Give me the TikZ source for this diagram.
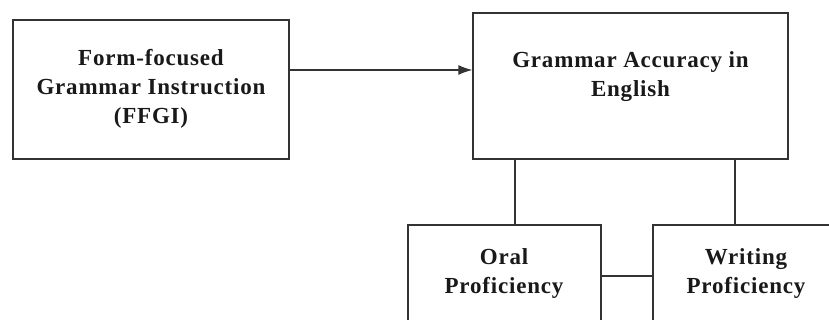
\documentclass[tikz,border=0pt]{standalone}
\usepackage{fontspec}
\setmainfont{Liberation Serif}
\usetikzlibrary{arrows.meta}
\tikzset{
  box/.style={draw=black!80, line width=1.3pt, inner sep=0pt},
  lbl/.style={font=\fontsize{23}{29}\selectfont\bfseries\addfontfeature{LetterSpace=3.5}, align=center, text=black!90, inner sep=0pt},
  conn/.style={draw=black!80, line width=1.3pt},
}
\begin{document}
\begin{tikzpicture}[x=1pt,y=1pt]
\useasboundingbox (0,0) rectangle (829,320);
\clip (0,0) rectangle (829,320);
\fill[white] (0,0) rectangle (829,320);
% boxes
\node[box, minimum width=276pt, minimum height=139pt] (ffgi) at (151,230.5) {};
\node[box, minimum width=315pt, minimum height=146pt] (gae) at (630.5,234) {};
\node[box, minimum width=193pt, minimum height=130pt] (oral) at (504.5,30) {};
\node[box, minimum width=190pt, minimum height=130pt] (writ) at (748,30) {};
% texts
\node[lbl] (t1) at (151,231) {Form-focused\\Grammar Instruction\\(FFGI)};
\node[lbl] (t2) at (630.5,243) {Grammar Accuracy in\\English};
\node[lbl] (t3) at (504,46) {Oral\\Proficiency};
\node[lbl] (t4) at (746,46) {Writing\\Proficiency};
% connectors
\draw[conn, -{Latex[length=14pt,width=10pt]}] (ffgi.east |- 0,250) -- (gae.west |- 0,250);
\draw[conn] (gae.south -| 515,0) -- (oral.north -| 515,0);
\draw[conn] (gae.south -| 735,0) -- (writ.north -| 735,0);
\draw[conn] (oral.east |- 0,44) -- (writ.west |- 0,44);
\end{tikzpicture}
\end{document}
